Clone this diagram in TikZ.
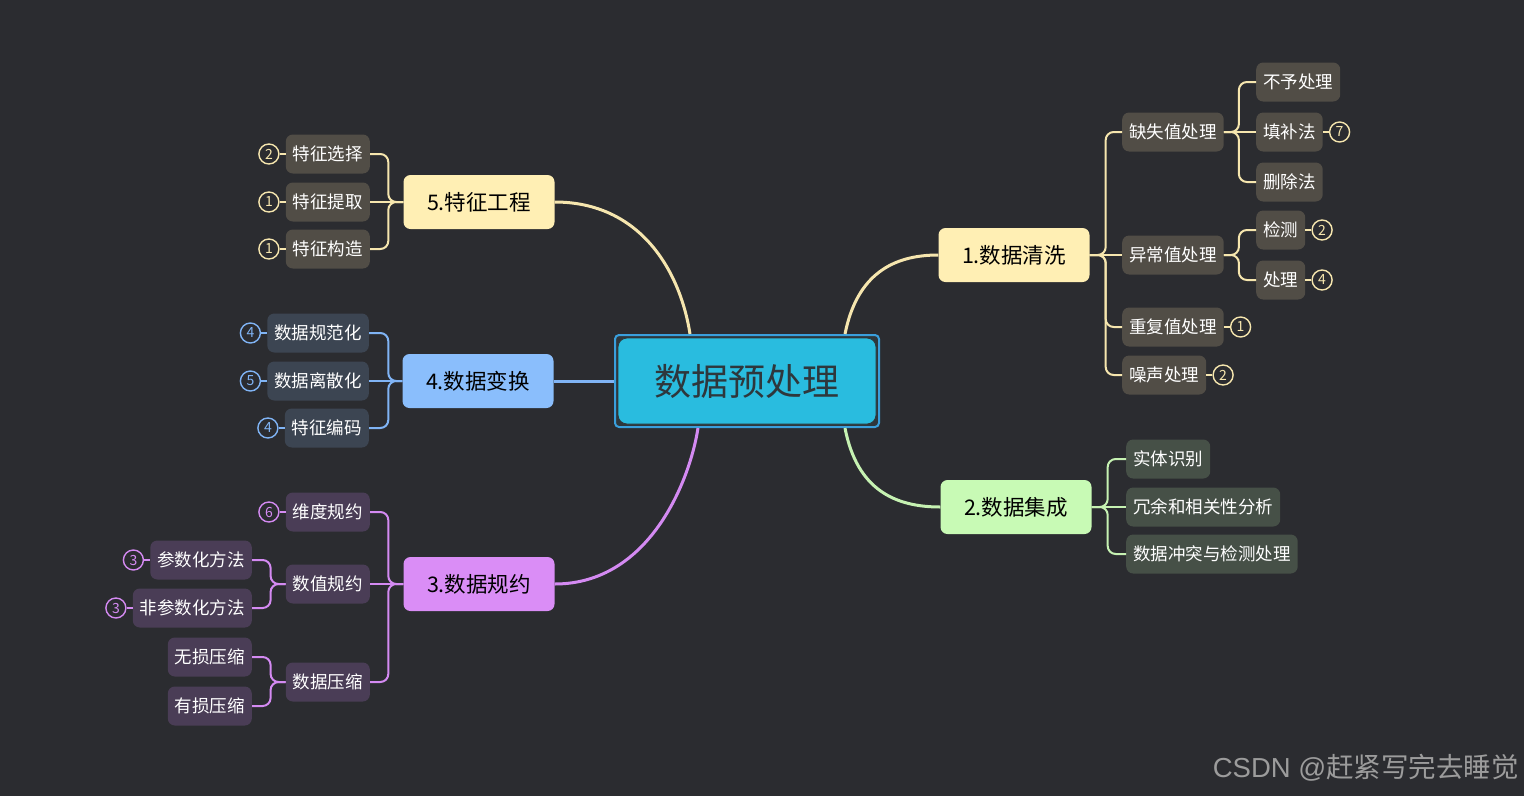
\documentclass[tikz,border=0pt]{standalone}
\usepackage{fontspec}
\setmainfont{Noto Sans CJK SC}
\newfontfamily\wmlatin{Liberation Sans}
\usetikzlibrary{calc,positioning}
\definecolor{cBg}{HTML}{2B2C30}
\definecolor{cYl}{HTML}{F6E6AE}
\definecolor{cYfill}{HTML}{FFEFB4}
\definecolor{cYbox}{HTML}{514D46}
\definecolor{cGl}{HTML}{C6F2B2}
\definecolor{cGfill}{HTML}{C8FAB5}
\definecolor{cGbox}{HTML}{465047}
\definecolor{cBl}{HTML}{80B4F5}
\definecolor{cBfill}{HTML}{8ABEFC}
\definecolor{cBbox}{HTML}{3C4552}
\definecolor{cPl}{HTML}{D48AF2}
\definecolor{cPfill}{HTML}{DA8DF6}
\definecolor{cPbox}{HTML}{4A3D56}
\definecolor{cCyan}{HTML}{29BCDF}
\definecolor{cRootO}{HTML}{3A9FDC}
\definecolor{cRootT}{HTML}{2E373C}
\definecolor{cWm}{HTML}{9C9C9C}
\tikzset{
  lvtwo/.style={rounded corners=7pt, minimum height=39pt, inner xsep=7pt, inner ysep=0pt, text=white, font=\fontsize{17.5}{20}\selectfont},
  ybox/.style={lvtwo, fill=cYbox},
  gbox/.style={lvtwo, fill=cGbox},
  bbox/.style={lvtwo, fill=cBbox},
  pbox/.style={lvtwo, fill=cPbox},
  lvone/.style={rounded corners=7pt, minimum height=54pt, minimum width=151pt, inner sep=0pt, text=black, font=\fontsize{21.5}{24}\selectfont},
  badge/.style={circle, draw, line width=1.4pt, minimum size=20pt, inner sep=0pt, fill=cBg, font=\fontsize{14}{15}\selectfont},
  ybadge/.style={badge, draw=cYl, text=cYl},
  bbadge/.style={badge, draw=cBl, text=cBl},
  pbadge/.style={badge, draw=cPl, text=cPl},
  ylink/.style={draw=cYl, line width=2pt, rounded corners=8pt},
  glink/.style={draw=cGl, line width=2pt, rounded corners=8pt},
  blink/.style={draw=cBl, line width=2pt, rounded corners=8pt},
  plink/.style={draw=cPl, line width=2pt, rounded corners=8pt},
  mainlink/.style={line width=3pt},
}
\begin{document}
\begin{tikzpicture}[x=1pt,y=-1pt]
\fill[cBg] (0,0) rectangle (1524,796);
\useasboundingbox (0,0) rectangle (1524,796);

% root
\node[draw=cRootO, fill=cRootT, line width=2pt, rounded corners=4pt, minimum width=264pt, minimum height=92pt, inner sep=0pt] (root) at (747,381) {};
\node[fill=cCyan, draw=cRootT, line width=0.8pt, rounded corners=9pt, minimum width=258pt, minimum height=86pt, inner sep=0pt, text=cRootT, font=\fontsize{37}{40}\selectfont] (rootin) at (root.center) {数据预处理};

% level one
\node[lvone, fill=cYfill] (clean) at (1014,255) {1.数据清洗};
\node[lvone, fill=cGfill] (integ) at (1016,507) {2.数据集成};
\node[lvone, fill=cPfill] (red) at (479,584) {3.数据规约};
\node[lvone, fill=cBfill] (trans) at (478,381) {4.数据变换};
\node[lvone, fill=cYfill] (feat) at (479,202) {5.特征工程};

% 1. cleaning
\node[ybox, anchor=west] (miss) at (1122,132) {缺失值处理};
\node[ybox, anchor=west] (abn) at (1122,255) {异常值处理};
\node[ybox, anchor=west] (dup) at (1122,327) {重复值处理};
\node[ybox, anchor=west] (noise) at (1122,375) {噪声处理};
\node[ybox, anchor=west] (m1) at (1256,82) {不予处理};
\node[ybox, anchor=west] (m2) at (1256,132) {填补法};
\node[ybox, anchor=west] (m3) at (1256,182) {删除法};
\node[ybox, anchor=west] (a1) at (1256,230) {检测};
\node[ybox, anchor=west] (a2) at (1256,280) {处理};
\node[ybadge, right=6pt of m2] (bm2) {7};
\node[ybadge, right=6pt of a1] (ba1) {2};
\node[ybadge, right=6pt of a2] (ba2) {4};
\node[ybadge, right=6pt of dup] (bdup) {1};
\node[ybadge, right=6pt of noise] (bnoise) {2};

% 2. integration
\node[gbox, anchor=west] (g1) at (1126,459) {实体识别};
\node[gbox, anchor=west] (g2) at (1126,507) {冗余和相关性分析};
\node[gbox, anchor=west] (g3) at (1126,554) {数据冲突与检测处理};

% 5. features
\node[ybox, anchor=east] (f1) at (370,154) {特征选择};
\node[ybox, anchor=east] (f2) at (370,202) {特征提取};
\node[ybox, anchor=east] (f3) at (370,249) {特征构造};
\node[ybadge, left=6pt of f1] (bf1) {2};
\node[ybadge, left=6pt of f2] (bf2) {1};
\node[ybadge, left=6pt of f3] (bf3) {1};

% 4. transform
\node[bbox, anchor=east] (t1) at (369,333) {数据规范化};
\node[bbox, anchor=east] (t2) at (369,381) {数据离散化};
\node[bbox, anchor=east] (t3) at (369,428) {特征编码};
\node[bbadge, left=6pt of t1] (bt1) {4};
\node[bbadge, left=6pt of t2] (bt2) {5};
\node[bbadge, left=6pt of t3] (bt3) {4};

% 3. reduction
\node[pbox, anchor=east] (r1) at (370,512) {维度规约};
\node[pbox, anchor=east] (r2) at (370,584) {数值规约};
\node[pbox, anchor=east] (r3) at (370,682) {数据压缩};
\node[pbox, anchor=east] (r21) at (252,560) {参数化方法};
\node[pbox, anchor=east] (r22) at (252,608) {非参数化方法};
\node[pbox, anchor=east] (r31) at (252,657) {无损压缩};
\node[pbox, anchor=east] (r32) at (252,706) {有损压缩};
\node[pbadge, left=6pt of r1] (br1) {6};
\node[pbadge, left=6pt of r21] (br21) {3};
\node[pbadge, left=6pt of r22] (br22) {3};

% main connectors
\draw[cYl, mainlink] ($(root.north east)+(-35,0)$) .. controls +(12,-60) and +(-45,0) .. (clean.west);
\draw[cGl, mainlink] ($(root.south east)+(-35,0)$) .. controls +(12,62) and +(-45,0) .. (integ.west);
\draw[cYl, mainlink] (feat.east) .. controls +(85,0) and +(-10,-64) .. ($(root.north west)+(76,0)$);
\draw[cPl, mainlink] (red.east) .. controls +(95,0) and +(-8,52) .. ($(root.south west)+(84,0)$);
\draw[cBl, mainlink] (trans.east) -- (root.west);

% 1. links
\draw[ylink] (clean.east) -- ++(16,0) |- (miss.west);
\draw[ylink] (clean.east) -- (abn.west);
\draw[ylink] (clean.east) -- ++(16,0) |- (dup.west);
\draw[ylink] (clean.east) -- ++(16,0) |- (noise.west);
\draw[ylink] (miss.east) -- ++(15,0) |- (m1.west);
\draw[ylink] (miss.east) -- (m2.west);
\draw[ylink] (miss.east) -- ++(15,0) |- (m3.west);
\draw[ylink] (abn.east) -- ++(15,0) |- (a1.west);
\draw[ylink] (abn.east) -- ++(15,0) |- (a2.west);
\draw[ylink] (m2.east) -- (bm2.west);
\draw[ylink] (a1.east) -- (ba1.west);
\draw[ylink] (a2.east) -- (ba2.west);
\draw[ylink] (dup.east) -- (bdup.west);
\draw[ylink] (noise.east) -- (bnoise.west);

% 2. links
\draw[glink] (integ.east) -- ++(16,0) |- (g1.west);
\draw[glink] (integ.east) -- (g2.west);
\draw[glink] (integ.east) -- ++(16,0) |- (g3.west);

% 5. links
\draw[ylink] (feat.west) -- ++(-15,0) |- (f1.east);
\draw[ylink] (feat.west) -- (f2.east);
\draw[ylink] (feat.west) -- ++(-15,0) |- (f3.east);
\draw[ylink] (bf1.east) -- (f1.west);
\draw[ylink] (bf2.east) -- (f2.west);
\draw[ylink] (bf3.east) -- (f3.west);

% 4. links
\draw[blink] (trans.west) -- ++(-14,0) |- (t1.east);
\draw[blink] (trans.west) -- (t2.east);
\draw[blink] (trans.west) -- ++(-14,0) |- (t3.east);
\draw[blink] (bt1.east) -- (t1.west);
\draw[blink] (bt2.east) -- (t2.west);
\draw[blink] (bt3.east) -- (t3.west);

% 3. links
\draw[plink] (red.west) -- ++(-15,0) |- (r1.east);
\draw[plink] (red.west) -- (r2.east);
\draw[plink] (red.west) -- ++(-15,0) |- (r3.east);
\draw[plink] (r2.west) -- ++(-15,0) |- (r21.east);
\draw[plink] (r2.west) -- ++(-15,0) |- (r22.east);
\draw[plink] (r3.west) -- ++(-15,0) |- (r31.east);
\draw[plink] (r3.west) -- ++(-15,0) |- (r32.east);
\draw[plink] (br1.east) -- (r1.west);
\draw[plink] (br21.east) -- (r21.west);
\draw[plink] (br22.east) -- (r22.west);

% watermark
\node[anchor=east, text=cWm, font=\fontsize{27.5}{30}\selectfont, inner sep=0pt] (wm) at (1519,768) {{\wmlatin CSDN @}赶紧写完去睡觉};
\end{tikzpicture}
\end{document}
